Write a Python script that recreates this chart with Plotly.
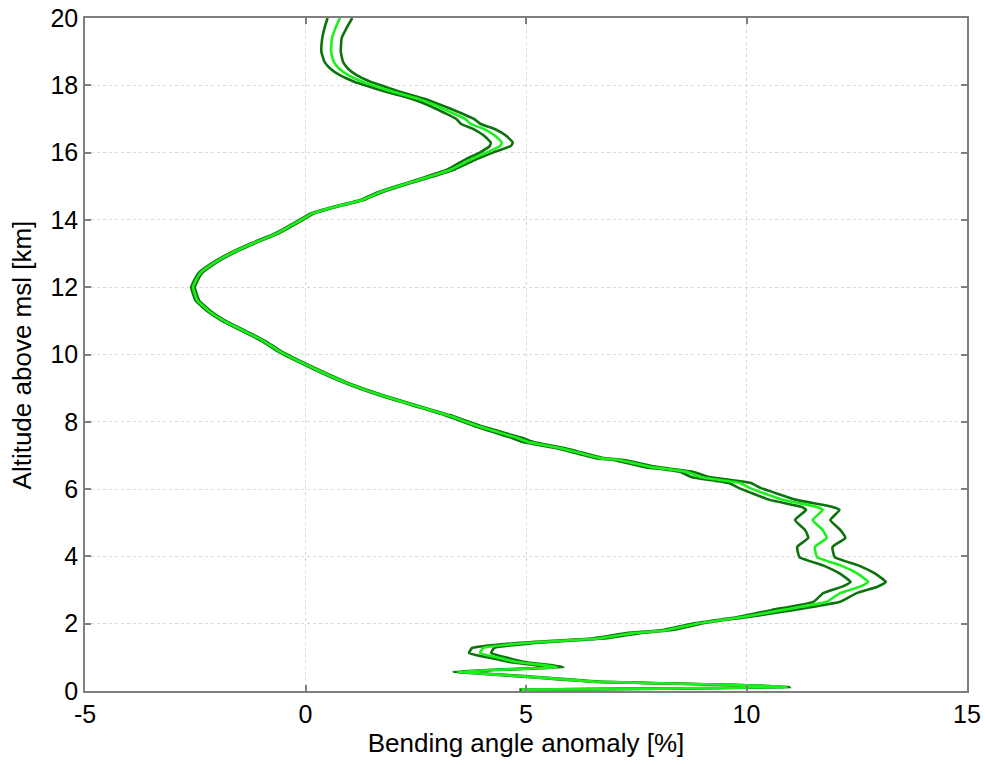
import plotly.graph_objects as go

# Bending angle anomaly profile: mean (bright) and mean +/- spread (dark)
altitude_km = [
    20.0, 19.7, 19.4, 19.0, 18.7, 18.5, 18.3, 18.1, 18.0, 17.8,
    17.6, 17.4, 17.2, 17.0, 16.85, 16.7, 16.5, 16.3, 16.2, 16.0,
    15.8, 15.5, 15.2, 15.0, 14.8, 14.6, 14.4, 14.2, 14.0, 13.6,
    13.3, 13.0, 12.7, 12.4, 12.0, 11.6, 11.3, 11.0, 10.7, 10.4,
    10.1, 9.6, 9.15, 8.8, 8.5, 8.2, 7.85, 7.52, 7.4, 7.22,
    6.92, 6.86, 6.66, 6.51, 6.36, 6.18, 6.03, 5.68, 5.47, 5.38,
    5.08, 4.78, 4.55, 4.28, 3.98, 3.74, 3.5, 3.24, 3.1, 2.91,
    2.65, 2.41, 2.2, 2.02, 1.81, 1.72, 1.57, 1.42, 1.28, 1.13,
    0.98, 0.86, 0.71, 0.64, 0.57, 0.45, 0.27, 0.18, 0.12, 0.07,
    0.04,
]
anomaly_mean = [
    0.78, 0.68, 0.60, 0.58, 0.64, 0.76, 0.97, 1.30, 1.53, 2.00,
    2.55, 2.95, 3.30, 3.62, 3.75, 4.05, 4.30, 4.45, 4.42, 4.10,
    3.75, 3.30, 2.60, 2.10, 1.65, 1.30, 0.70, 0.17, -0.10, -0.65,
    -1.20, -1.70, -2.10, -2.40, -2.55, -2.45, -2.20, -1.85, -1.40, -0.95,
    -0.60, 0.17, 0.94, 1.69, 2.44, 3.21, 3.96, 4.80, 5.05, 5.77,
    6.68, 7.13, 7.81, 8.65, 8.95, 9.85, 10.08, 10.83, 11.60, 11.73,
    11.50, 11.73, 11.82, 11.55, 11.60, 12.12, 12.50, 12.76, 12.57, 12.12,
    11.82, 10.83, 9.92, 8.95, 8.20, 7.43, 6.68, 4.94, 4.03, 3.96,
    4.40, 4.80, 5.70, 4.50, 3.45, 4.80, 6.68, 9.80, 10.90, 8.00,
    4.90,
]
anomaly_spread = [
    0.28, 0.25, 0.22, 0.22, 0.21, 0.20, 0.19, 0.18, 0.18, 0.16,
    0.15, 0.15, 0.18, 0.20, 0.22, 0.24, 0.25, 0.25, 0.24, 0.15,
    0.12, 0.08, 0.06, 0.05, 0.05, 0.04, 0.04, 0.04, 0.04, 0.04,
    0.04, 0.04, 0.04, 0.04, 0.04, 0.04, 0.04, 0.04, 0.04, 0.04,
    0.04, 0.04, 0.04, 0.05, 0.05, 0.06, 0.08, 0.12, 0.12, 0.10,
    0.10, 0.12, 0.15, 0.15, 0.20, 0.25, 0.25, 0.30, 0.35, 0.38,
    0.40, 0.40, 0.42, 0.40, 0.40, 0.40, 0.40, 0.40, 0.40, 0.38,
    0.30, 0.25, 0.12, 0.10, 0.12, 0.15, 0.15, 0.20, 0.25, 0.25,
    0.20, 0.18, 0.15, 0.12, 0.10, 0.10, 0.08, 0.08, 0.08, 0.06,
    0.05,
]

x_ticks = [-5, 0, 5, 10, 15]
y_ticks = [0, 2, 4, 6, 8, 10, 12, 14, 16, 18, 20]

lower = [m - s for m, s in zip(anomaly_mean, anomaly_spread)]
upper = [m + s for m, s in zip(anomaly_mean, anomaly_spread)]

dark_green = "#0c720c"
bright_green = "#1cf01c"
line_kw = dict(width=2.6, shape="spline", smoothing=0.4)

fig = go.Figure()
for bound in (lower, upper):
    fig.add_trace(go.Scatter(x=bound, y=altitude_km, mode="lines",
                             line=dict(color=dark_green, **line_kw),
                             showlegend=False, hoverinfo="skip"))
fig.add_trace(go.Scatter(x=anomaly_mean, y=altitude_km, mode="lines",
                         line=dict(color=bright_green, **line_kw),
                         showlegend=False))

axis_common = dict(
    showline=True, linecolor="#7f7f7f", linewidth=1.5, mirror="ticks",
    ticks="inside", ticklen=6, tickwidth=1.5, tickcolor="#7f7f7f",
    showgrid=True, gridcolor="#d8d8d8", griddash="dot", gridwidth=1,
    zeroline=False, tickfont=dict(size=25, color="black"),
    automargin=False, ticklabeloverflow="allow",
)

fig.update_layout(
    template="none",
    width=985, height=765,
    margin=dict(l=85, r=18, t=18, b=74),
    paper_bgcolor="white", plot_bgcolor="white",
    font=dict(family="Liberation Sans, Arial, sans-serif", color="black"),
    xaxis=dict(range=[-5, 15], tickvals=x_ticks, ticktext=[str(v) for v in x_ticks],
               title=dict(text="Bending angle anomaly [%]", font=dict(size=26), standoff=4),
               **axis_common),
    yaxis=dict(range=[0, 20], tickvals=y_ticks, ticktext=[str(v) for v in y_ticks],
               **axis_common),
    annotations=[dict(
        text="Altitude above msl [km]", textangle=-90,
        xref="paper", yref="paper", x=-0.0715, y=0.5,
        xanchor="center", yanchor="middle", showarrow=False,
        font=dict(size=26, color="black"),
    )],
)

fig.write_html("out.html")
